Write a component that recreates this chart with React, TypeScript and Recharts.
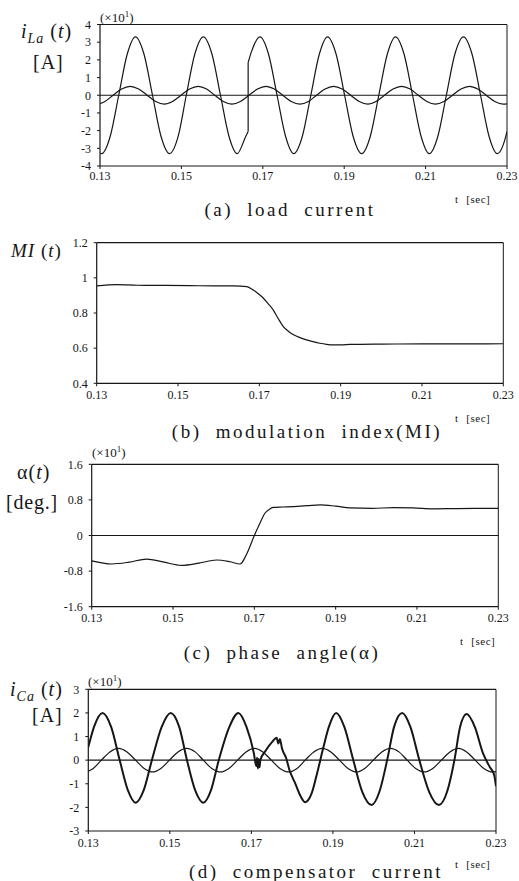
import React from 'react';
import { LineChart, Line, XAxis, YAxis, ReferenceLine } from 'recharts';

const FONT = '"Liberation Serif", "Times New Roman", serif';
const INK = '#161616';

// shared time ticks
const timeTicks = [0.13, 0.15, 0.17, 0.19, 0.21, 0.23];

// (a) load current (x10 A) — before the load step
const loadT1 = [0.13, 0.1304, 0.1325, 0.1346, 0.1367, 0.1387, 0.1408, 0.1429, 0.145, 0.1471, 0.1492, 0.1512, 0.1533, 0.1554, 0.1575, 0.1596, 0.1617, 0.1637, 0.1658, 0.1664];
const loadV1 = [-3.26, -3.3, -2.33, 0, 2.33, 3.3, 2.33, 0, -2.33, -3.3, -2.33, 0, 2.33, 3.3, 2.33, 0, -2.33, -3.3, -2.33, -2.05];
// step
const loadStepT = [0.1664, 0.1664];
const loadStepV = [-2.05, 1.85];
// after the load step
const loadT2 = [0.1664, 0.1672, 0.1693, 0.1714, 0.1735, 0.1756, 0.1776, 0.1797, 0.1818, 0.1839, 0.1859, 0.188, 0.1901, 0.1922, 0.1943, 0.1964, 0.1985, 0.2006, 0.2026, 0.2047, 0.2068, 0.2089, 0.2109, 0.213, 0.2151, 0.2172, 0.2193, 0.2214, 0.2235, 0.2256, 0.2276, 0.2297, 0.23];
const loadV2 = [1.85, 2.45, 3.3, 2.33, 0, -2.33, -3.3, -2.33, 0, 2.33, 3.3, 2.33, 0, -2.33, -3.3, -2.33, 0, 2.33, 3.3, 2.33, 0, -2.33, -3.3, -2.33, 0, 2.33, 3.3, 2.33, 0, -2.33, -3.3, -2.33, -2.05];

// reference sinusoid shown in (a) and (d)
const refT = [0.13, 0.1312, 0.1332, 0.1353, 0.1374, 0.1395, 0.1416, 0.1437, 0.1458, 0.1478, 0.1499, 0.152, 0.1541, 0.1562, 0.1582, 0.1603, 0.1624, 0.1645, 0.1666, 0.1687, 0.1708, 0.1728, 0.1749, 0.177, 0.1791, 0.1812, 0.1832, 0.1853, 0.1874, 0.1895, 0.1916, 0.1937, 0.1958, 0.1978, 0.1999, 0.202, 0.2041, 0.2062, 0.2082, 0.2103, 0.2124, 0.2145, 0.2166, 0.2187, 0.2208, 0.2228, 0.2249, 0.227, 0.2291, 0.23];
const refV = [-0.47, -0.35, 0, 0.35, 0.5, 0.35, 0, -0.35, -0.5, -0.35, 0, 0.35, 0.5, 0.35, 0, -0.35, -0.5, -0.35, 0, 0.35, 0.5, 0.35, 0, -0.35, -0.5, -0.35, 0, 0.35, 0.5, 0.35, 0, -0.35, -0.5, -0.35, 0, 0.35, 0.5, 0.35, 0, -0.35, -0.5, -0.35, 0, 0.35, 0.5, 0.35, 0, -0.35, -0.5, -0.49];

// (b) modulation index
const miT = [0.13, 0.135, 0.14, 0.147, 0.155, 0.1636, 0.1669, 0.1685, 0.17, 0.171, 0.1722, 0.1734, 0.1746, 0.1759, 0.1772, 0.1784, 0.18, 0.1816, 0.1832, 0.1849, 0.1865, 0.1882, 0.19, 0.1923, 0.2, 0.21, 0.22, 0.23];
const miV = [0.954, 0.962, 0.958, 0.957, 0.955, 0.954, 0.95, 0.931, 0.905, 0.884, 0.852, 0.818, 0.77, 0.723, 0.695, 0.676, 0.66, 0.647, 0.637, 0.628, 0.622, 0.619, 0.619, 0.621, 0.623, 0.624, 0.624, 0.625];

// (c) phase angle (x10 deg)
const alphaT = [0.13, 0.1349, 0.1392, 0.1435, 0.1478, 0.1521, 0.1564, 0.1607, 0.164, 0.1665, 0.1681, 0.17, 0.1714, 0.1726, 0.1737, 0.1747, 0.177, 0.1796, 0.183, 0.1862, 0.19, 0.1935, 0.199, 0.2042, 0.209, 0.214, 0.22, 0.23];
const alphaV = [-0.57, -0.64, -0.6, -0.53, -0.6, -0.67, -0.62, -0.55, -0.59, -0.64, -0.42, 0, 0.28, 0.5, 0.59, 0.63, 0.64, 0.65, 0.67, 0.69, 0.66, 0.62, 0.61, 0.625, 0.62, 0.6, 0.605, 0.61];

// (d) compensator current (x10 A)
const compT = [0.13, 0.1314, 0.1335, 0.1356, 0.1377, 0.1397, 0.1416, 0.1436, 0.1456, 0.148, 0.1502, 0.1523, 0.1542, 0.1562, 0.1582, 0.1601, 0.162, 0.1646, 0.1668, 0.1688, 0.1706, 0.1712, 0.1714, 0.1716, 0.1718, 0.172, 0.1722, 0.1735, 0.175, 0.1762, 0.1766, 0.177, 0.1775, 0.1785, 0.1794, 0.1808, 0.182, 0.1832, 0.1848, 0.1862, 0.1876, 0.189, 0.1908, 0.1928, 0.195, 0.1972, 0.1995, 0.2014, 0.2033, 0.205, 0.207, 0.209, 0.2112, 0.2136, 0.216, 0.218, 0.2198, 0.2212, 0.2228, 0.2248, 0.2268, 0.2285, 0.2295, 0.23];
const compV = [0.55, 1.41, 2.0, 1.41, 0, -1.27, -1.8, -1.27, 0, 1.41, 2.0, 1.41, 0, -1.27, -1.8, -1.27, 0, 1.41, 2.0, 1.41, 0.3, -0.25, 0.1, -0.35, 0.05, -0.3, 0, 0.4, 0.75, 0.95, 0.7, 0.9, 0.5, 0.1, -0.45, -1.0, -1.5, -1.78, -1.4, -0.5, 0.5, 1.41, 2.0, 1.41, 0, -1.34, -1.9, -1.34, 0, 1.41, 2.0, 1.41, 0, -1.34, -1.9, -1.34, 0, 1.41, 1.95, 1.41, 0.3, -0.3, -0.6, -1.1];

const loadTicks = [-4, -3, -2, -1, 0, 1, 2, 3, 4];
const miTicks = [0.4, 0.6, 0.8, 1, 1.2];
const alphaTicks = [-1.6, -0.8, 0, 0.8, 1.6];
const compTicks = [-3, -2, -1, 0, 1, 2, 3];

const zip = (ts: number[], vs: number[]) => ts.map((t, i) => ({ t, v: vs[i] }));

type Series = { data: { t: number; v: number }[]; w: number; curve: 'monotone' | 'linear' };

type PanelProps = {
  top: number;
  height: number;
  left: number;
  right: number;
  plotTop: number;
  plotBottom: number;
  yDomain: [number, number];
  yTicks: number[];
  series: Series[];
  zero: boolean;
  xTickMargin: number;
};

function Panel(p: PanelProps) {
  const W = 519;
  const tickStyle = { fontFamily: FONT, fontSize: 12, fill: INK };
  return (
    <div style={{ position: 'absolute', left: 0, top: p.top, width: W, height: p.height }}>
      <LineChart
        width={W}
        height={p.height}
        margin={{ top: p.plotTop - p.top, right: W - p.right, bottom: 0, left: 0 }}
      >
        <XAxis
          dataKey="t"
          type="number"
          domain={[0.13, 0.23]}
          ticks={timeTicks}
          allowDataOverflow
          interval={0}
          height={p.top + p.height - p.plotBottom}
          tickFormatter={(v: number) => v.toFixed(2)}
          tick={tickStyle}
          tickSize={3}
          tickMargin={p.xTickMargin}
          axisLine={{ stroke: INK, strokeWidth: 1.2 }}
          tickLine={{ stroke: INK }}
        />
        <YAxis
          type="number"
          domain={p.yDomain}
          ticks={p.yTicks}
          allowDataOverflow
          interval={0}
          width={p.left}
          tickFormatter={(v: number) => String(v)}
          tick={tickStyle}
          tickSize={3}
          tickMargin={6}
          axisLine={{ stroke: INK, strokeWidth: 1.2 }}
          tickLine={{ stroke: INK }}
        />
        <ReferenceLine y={p.yDomain[1]} stroke={INK} strokeWidth={1.2} />
        <ReferenceLine x={0.23} stroke={INK} strokeWidth={1} />
        {p.zero && <ReferenceLine y={0} stroke={INK} strokeWidth={1.1} />}
        {p.series.map((s, i) => (
          <Line
            key={i}
            data={s.data}
            dataKey="v"
            type={s.curve}
            dot={false}
            activeDot={false}
            stroke={INK}
            strokeWidth={s.w}
            isAnimationActive={false}
          />
        ))}
      </LineChart>
    </div>
  );
}

const txt = (left: number, top: number, size: number, extra: React.CSSProperties = {}): React.CSSProperties => ({
  position: 'absolute',
  left,
  top,
  fontFamily: FONT,
  fontSize: size,
  color: INK,
  lineHeight: 1,
  whiteSpace: 'nowrap',
  ...extra,
});

function Times10({ left, top }: { left: number; top: number }) {
  return (
    <div style={txt(left, top, 13)}>
      (×10<span style={{ fontSize: 9, position: 'relative', top: -5 }}>1</span>)
    </div>
  );
}

function TSec({ left, top }: { left: number; top: number }) {
  return (
    <div style={txt(left, top, 11)}>
      t&nbsp;&nbsp;&nbsp;<span style={{ fontSize: 11, letterSpacing: 0.5 }}>[sec]</span>
    </div>
  );
}

function Caption({ center, top, text }: { center: number; top: number; text: string }) {
  return (
    <div style={txt(center - 200, top, 19, { width: 400, textAlign: 'center', letterSpacing: 2.5, wordSpacing: 7 })}>
      {text}
    </div>
  );
}

export default function App() {
  const it: React.CSSProperties = { fontStyle: 'italic' };
  return (
    <div style={{ position: 'absolute', left: 0, top: 0, width: 519, height: 881, background: '#fff', overflow: 'hidden' }}>
      <Panel
        top={0}
        height={220}
        left={100}
        right={507}
        plotTop={24.5}
        plotBottom={166}
        yDomain={[-4, 4]}
        yTicks={loadTicks}
        zero
        xTickMargin={2}
        series={[
          { data: zip(refT, refV), w: 1.2, curve: 'monotone' },
          { data: zip(loadT1, loadV1), w: 1.2, curve: 'monotone' },
          { data: zip(loadStepT, loadStepV), w: 1.2, curve: 'linear' },
          { data: zip(loadT2, loadV2), w: 1.2, curve: 'monotone' },
        ]}
      />
      <Panel
        top={220}
        height={220}
        left={96.7}
        right={503.3}
        plotTop={242.7}
        plotBottom={383.3}
        yDomain={[0.4, 1.2]}
        yTicks={miTicks}
        zero={false}
        xTickMargin={4}
        series={[{ data: zip(miT, miV), w: 1.2, curve: 'monotone' }]}
      />
      <Panel
        top={440}
        height={220}
        left={91.7}
        right={498.3}
        plotTop={464.3}
        plotBottom={606.7}
        yDomain={[-1.6, 1.6]}
        yTicks={alphaTicks}
        zero
        xTickMargin={4}
        series={[{ data: zip(alphaT, alphaV), w: 1.2, curve: 'monotone' }]}
      />
      <Panel
        top={660}
        height={221}
        left={88.3}
        right={496}
        plotTop={689.3}
        plotBottom={831}
        yDomain={[-3, 3]}
        yTicks={compTicks}
        zero
        xTickMargin={4}
        series={[
          { data: zip(refT, refV), w: 1.2, curve: 'monotone' },
          { data: zip(compT, compV), w: 2, curve: 'monotone' },
        ]}
      />

      {/* (a) labels */}
      <div style={txt(21, 21, 20, { letterSpacing: 1 })}>
        <span style={it}>i</span>
        <span style={{ ...it, fontSize: 14, position: 'relative', top: 5 }}>La</span>
        <span> (</span>
        <span style={it}>t</span>
        <span>)</span>
      </div>
      <div style={txt(33, 52, 20, { letterSpacing: 1 })}>[A]</div>
      <Times10 left={100} top={11} />
      <TSec left={455} top={194} />
      <Caption center={290} top={200} text="(a) load current" />

      {/* (b) labels */}
      <div style={txt(11, 241, 19, { letterSpacing: 1 })}>
        <span style={it}>MI</span> (<span style={it}>t</span>)
      </div>
      <TSec left={455} top={413} />
      <Caption center={307} top={422} text="(b) modulation index(MI)" />

      {/* (c) labels */}
      <div style={txt(17, 462, 20, { letterSpacing: 1 })}>
        α(<span style={it}>t</span>)
      </div>
      <div style={txt(6, 492, 20, { letterSpacing: 0.8 })}>[deg.]</div>
      <Times10 left={92} top={446} />
      <TSec left={460} top={636} />
      <Caption center={282} top={643} text="(c) phase angle(α)" />

      {/* (d) labels */}
      <div style={txt(10, 679, 20, { letterSpacing: 1 })}>
        <span style={it}>i</span>
        <span style={{ ...it, fontSize: 14, position: 'relative', top: 5 }}>Ca</span>
        <span> (</span>
        <span style={it}>t</span>
        <span>)</span>
      </div>
      <div style={txt(32, 705, 20, { letterSpacing: 1 })}>[A]</div>
      <Times10 left={88} top={675} />
      <TSec left={455} top={859} />
      <Caption center={316} top={862} text="(d) compensator current" />
    </div>
  );
}
